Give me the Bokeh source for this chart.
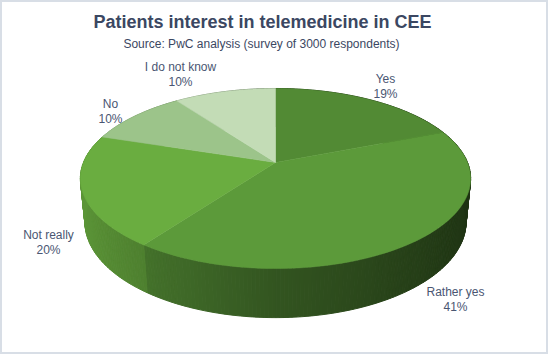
import numpy as np
from bokeh.plotting import figure
from bokeh.models import Range1d
from bokeh.embed import file_html
from bokeh.resources import INLINE
from bokeh.core.properties import value

# ---- data ----
categories = ["Yes", "Rather yes", "Not really", "No", "I do not know"]
shares = [19, 41, 20, 10, 10]
pct_labels = ["19%", "41%", "20%", "10%", "10%"]

# ---- style / layout ----
top_colors = [(82, 138, 52), (92, 154, 58), (106, 173, 64), (156, 196, 138), (195, 220, 182)]
label_pos = [(385, 78), (455, 291), (48, 234), (110, 103), (180, 66)]
TEXT_COLOR = "#4a5672"
TITLE_COLOR = "#3b4762"
FONT = "Liberation Sans"

W, H = 548, 354
CX, CY = 275, 162
F, D, E, DEPTH = 962.0, 5.01, np.radians(27), 0.257


def proj(phi, r=1.0, h=0.0):
    X = r * np.sin(phi)
    Z = -r * np.cos(phi)
    s, c = np.sin(E), np.cos(E)
    yc = -h * c - Z * s
    zc = h * s + D - Z * c
    return CX + F * X / zc, CY - F * yc / zc


def hexc(rgb, k=1.0):
    return "#%02x%02x%02x" % tuple(int(max(0, min(255, round(v * k)))) for v in rgb)


p = figure(width=W, height=H, x_range=Range1d(0, W), y_range=Range1d(H, 0),
           output_backend="svg", toolbar_location=None, min_border=0)
p.axis.visible = False
p.grid.visible = False
p.background_fill_color = "white"
p.border_fill_color = "white"
p.outline_line_color = "#d8dee6"
p.outline_line_width = 3

total = float(sum(shares))
bounds = np.concatenate([[0], np.cumsum(shares)]) / total * 2 * np.pi

# side strips
strips = []
for i in range(len(shares)):
    a0, a1 = bounds[i], bounds[i + 1]
    n = max(2, int(np.degrees(a1 - a0)))
    ph = np.linspace(a0, a1, n + 1)
    for j in range(n):
        p0, p1 = ph[j], ph[j + 1]
        x0t, y0t = proj(p0)
        x1t, y1t = proj(p1)
        x0b, y0b = proj(p0, h=DEPTH)
        x1b, y1b = proj(p1, h=DEPTH)
        mid = 0.5 * (p0 + p1)
        sn = np.sin(mid)
        shade = 0.55 - (0.22 * sn if sn > 0 else 0.32 * sn)
        col = hexc(top_colors[i], shade)
        strips.append((-np.cos(mid), [x0t, x1t, x1b, x0b], [y0t, y1t, y1b, y0b], col))
strips.sort(key=lambda s: -s[0])
p.patches([s[1] for s in strips], [s[2] for s in strips],
          fill_color=[s[3] for s in strips], line_color=[s[3] for s in strips], line_width=1)

# top faces
txs, tys, tcs = [], [], []
for i in range(len(shares)):
    ph = np.linspace(bounds[i], bounds[i + 1], 80)
    xs, ys = proj(ph)
    txs.append([CX] + list(xs))
    tys.append([CY] + list(ys))
    tcs.append(hexc(top_colors[i]))
p.patches(txs, tys, fill_color=tcs, line_color=tcs, line_width=0.5)

# labels
lx = [q[0] for q in label_pos]
ly = [q[1] for q in label_pos]
p.text(lx, ly, text=categories, text_align="center", text_baseline="middle",
       text_font=value(FONT), text_font_size="12px", text_color=TEXT_COLOR)
p.text(lx, [y + 15 for y in ly], text=pct_labels, text_align="center", text_baseline="middle",
       text_font=value(FONT), text_font_size="12px", text_color=TEXT_COLOR)

# title
p.text([262], [21], text=["Patients interest in telemedicine in CEE"], text_align="center",
       text_baseline="middle", text_font=value(FONT), text_font_size="18px",
       text_font_style="bold", text_color=TITLE_COLOR)
p.text([261], [43], text=["Source: PwC analysis (survey of 3000 respondents)"], text_align="center",
       text_baseline="middle", text_font=value(FONT), text_font_size="12px", text_color=TITLE_COLOR)

open("out.html", "w").write(file_html(p, INLINE))
